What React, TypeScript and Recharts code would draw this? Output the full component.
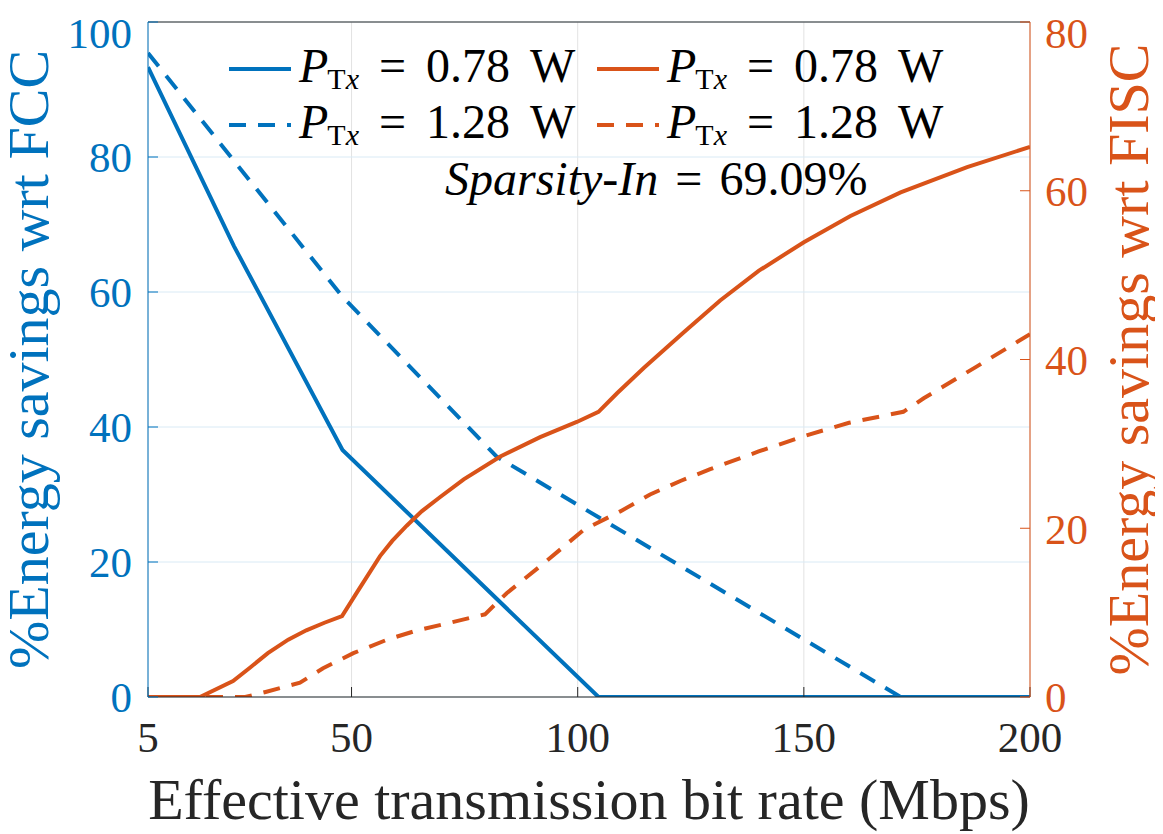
import { LineChart, Line, XAxis, YAxis, CartesianGrid, Legend, ReferenceLine } from "recharts";

const BLUE = "#0072BD";
const ORANGE = "#D95319";
const INK = "#262626";
const FONT = "'Liberation Serif', 'Times New Roman', serif";

// x positions (Mbps) and % savings
const rateFccLow = [5, 24, 48, 104.6, 200];
const savingsFccLow = [93.3, 66.8, 36.6, 0, 0];

const rateFccHigh = [5, 48, 82.1, 171.4, 200];
const savingsFccHigh = [95.4, 59.3, 35.6, 0, 0];

const rateFiscLow = [
  5, 16.5, 23.8, 27.6, 31.5, 36, 40, 44, 47.9, 51.2, 56.3, 59, 62.2, 65.5, 69.6,
  74.8, 82.9, 91.7, 99.8, 104.6, 108.7, 114.6, 123.4, 131.5, 140, 150, 160.3,
  171.4, 186.1, 200,
];
const savingsFiscLow = [
  0, 0, 1.9, 3.5, 5.2, 6.8, 7.9, 8.8, 9.6, 12.4, 16.7, 18.5, 20.3, 22.0, 23.7,
  25.8, 28.5, 30.8, 32.6, 33.8, 36.0, 39.0, 43.2, 47.0, 50.5, 53.9, 57.0, 59.8,
  62.8, 65.2,
];

const rateFiscHigh = [
  5, 26.5, 31, 38.6, 43.7, 50.4, 57.9, 64.5, 71, 79.5, 84.3, 92.4, 101.3, 109.4,
  116, 122.7, 129.3, 140, 149.9, 160, 172, 176.5, 188, 200,
];
const savingsFiscHigh = [
  0, 0, 0.6, 1.7, 3.4, 5.2, 6.8, 7.9, 8.7, 9.8, 12.3, 15.8, 19.8, 22.0, 24.0,
  25.6, 27.0, 29.1, 30.9, 32.5, 33.8, 35.4, 39.1, 43.0,
];

const X_TICKS = [5, 50, 100, 150, 200];
const LEFT_TICKS = [0, 20, 40, 60, 80, 100];
const RIGHT_TICKS = [0, 20, 40, 60, 80];

const toPoints = (rate: number[], savings: number[]) =>
  rate.map((r, i) => ({ rate: r, savings: savings[i] }));

const SERIES = [
  { key: "fccLow", power: "0.78", color: BLUE, dash: undefined, axis: "left", data: toPoints(rateFccLow, savingsFccLow) },
  { key: "fccHigh", power: "1.28", color: BLUE, dash: "17 12", axis: "left", data: toPoints(rateFccHigh, savingsFccHigh) },
  { key: "fiscLow", power: "0.78", color: ORANGE, dash: undefined, axis: "right", data: toPoints(rateFiscLow, savingsFiscLow) },
  { key: "fiscHigh", power: "1.28", color: ORANGE, dash: "17 12", axis: "right", data: toPoints(rateFiscHigh, savingsFiscHigh) },
];

const W = 1155;
const H = 826;

function PtxLabel({ x, y, power }: { x: number; y: number; power: string }) {
  return (
    <text x={x} y={y} fontFamily={FONT} fontSize={48} fill="#000">
      <tspan fontStyle="italic">P</tspan>
      <tspan fontSize={30} dy={7} dx={-1}>T</tspan>
      <tspan fontSize={30} fontStyle="italic">x</tspan>
      <tspan dy={-7} dx={20}>=</tspan>
      <tspan dx={20}>{power}</tspan>
      <tspan dx={20}>W</tspan>
    </text>
  );
}

function renderLegend() {
  const cols = [
    { x: 221, items: [SERIES[0], SERIES[1]] },
    { x: 589, items: [SERIES[2], SERIES[3]] },
  ];
  const rows = [61, 117];
  return (
    <svg width={W} height={220} style={{ display: "block" }}>
      {cols.map((c) =>
        c.items.map((s, r) => (
          <g key={s.key}>
            <line
              x1={c.x}
              x2={c.x + 62}
              y1={rows[r]}
              y2={rows[r]}
              stroke={s.color}
              strokeWidth={4}
              strokeDasharray={s.dash}
            />
            <PtxLabel x={c.x + 70} y={rows[r] + 13} power={s.power} />
          </g>
        ))
      )}
      <text x={437} y={187} fontFamily={FONT} fontSize={48} fill="#000">
        <tspan fontStyle="italic">Sparsity-In</tspan>
        <tspan dx={17}>=</tspan>
        <tspan dx={17}>69.09%</tspan>
      </text>
    </svg>
  );
}

function AxisTitle(props: any) {
  const vb = props.viewBox ?? props;
  const { side, text, color } = props;
  if (side === "bottom") {
    return (
      <text
        x={vb.x + vb.width / 2}
        y={vb.y + 122}
        textAnchor="middle"
        fontFamily={FONT}
        fontSize={58}
        fill={color}
      >
        {text}
      </text>
    );
  }
  const x = side === "left" ? vb.x + 40 : vb.x + 118;
  const y = vb.y + vb.height / 2;
  return (
    <text
      x={x}
      y={y}
      transform={`rotate(-90, ${x}, ${y})`}
      textAnchor="middle"
      fontFamily={FONT}
      fontSize={58}
      fill={color}
    >
      {text}
    </text>
  );
}

export default function App() {
  return (
    <LineChart
      width={W}
      height={H}
      margin={{ top: 14, right: 0, bottom: 0, left: 0 }}
    >
      <CartesianGrid horizontal={false} vertical stroke="#e3e3e3" strokeWidth={1} />
      <CartesianGrid yAxisId="left" horizontal vertical={false} stroke="#d9eaf5" strokeWidth={1} />
      <XAxis
        dataKey="rate"
        type="number"
        domain={[5, 200]}
        ticks={X_TICKS}
        allowDataOverflow
        height={137}
        stroke={INK}
        tickSize={-10}
        tickMargin={34}
        tick={{ fontFamily: FONT, fontSize: 43, fill: INK }}
        label={(p: any) => (
          <AxisTitle {...p} side="bottom" color={INK} text="Effective transmission bit rate (Mbps)" />
        )}
      />
      <XAxis
        xAxisId="top"
        orientation="top"
        type="number"
        domain={[5, 200]}
        ticks={X_TICKS}
        allowDataOverflow
        height={0}
        stroke={INK}
        tickSize={-10}
        tick={() => <g />}
      />
      <YAxis
        yAxisId="left"
        type="number"
        domain={[0, 100]}
        ticks={LEFT_TICKS}
        allowDataOverflow
        width={140}
        stroke={BLUE}
        tickSize={-10}
        tickMargin={26}
        tick={{ fontFamily: FONT, fontSize: 43, fill: BLUE }}
        label={(p: any) => (
          <AxisTitle {...p} side="left" color={BLUE} text="%Energy savings wrt FCC" />
        )}
      />
      <YAxis
        yAxisId="right"
        orientation="right"
        type="number"
        domain={[0, 80]}
        ticks={RIGHT_TICKS}
        allowDataOverflow
        width={133}
        stroke={ORANGE}
        tickSize={-10}
        tickMargin={25}
        tick={{ fontFamily: FONT, fontSize: 43, fill: ORANGE }}
        label={(p: any) => (
          <AxisTitle {...p} side="right" color={ORANGE} text="%Energy savings wrt FISC" />
        )}
      />
      <ReferenceLine yAxisId="left" y={100} stroke={INK} strokeWidth={1} />
      <Legend
        content={renderLegend}
        layout="horizontal"
        verticalAlign="middle"
        align="center"
        wrapperStyle={{ left: 0, top: 0, width: W, height: 220 }}
      />
      {SERIES.map((s) => (
        <Line
          key={s.key}
          name={s.key}
          data={s.data}
          dataKey="savings"
          yAxisId={s.axis}
          type="linear"
          stroke={s.color}
          strokeWidth={4}
          strokeDasharray={s.dash}
          dot={false}
          activeDot={false}
          isAnimationActive={false}
        />
      ))}
    </LineChart>
  );
}
